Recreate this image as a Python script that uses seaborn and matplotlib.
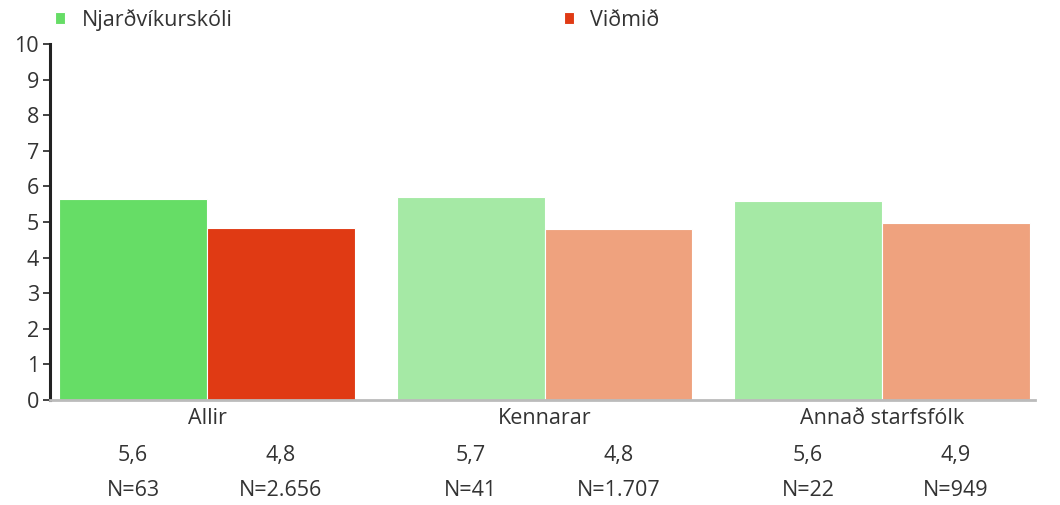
import matplotlib
matplotlib.use("Agg")
import matplotlib.pyplot as plt
import matplotlib.transforms as mtransforms
import seaborn as sns
import pandas as pd

categories = ["Allir", "Kennarar", "Annað starfsfólk"]
series_names = ["Njarðvíkurskóli", "Viðmið"]
school_values = [5.65, 5.70, 5.59]
norm_values = [4.83, 4.80, 4.97]
school_labels = ["5,6", "5,7", "5,6"]
norm_labels = ["4,8", "4,8", "4,9"]
school_n = ["N=63", "N=41", "N=22"]
norm_n = ["N=2.656", "N=1.707", "N=949"]

green_dark, red_dark = "#66DD66", "#E03A14"
green_light, red_light = "#A5E9A5", "#EFA27E"

sns.set_theme(style="white")
plt.rcParams["font.family"] = ["Open Sans", "DejaVu Sans"]
text_color = "#333333"
fs = 15.5

df = pd.DataFrame({
    "group": categories * 2,
    "series": [series_names[0]] * 3 + [series_names[1]] * 3,
    "value": school_values + norm_values,
})

fig = plt.figure(figsize=(10.6, 5.05), dpi=100)
ax = fig.add_axes([50 / 1060, 1 - 400 / 505, (1035 - 50) / 1060, (400 - 44) / 505])

width = 0.876
sns.barplot(data=df, x="group", y="value", hue="series", order=categories,
            hue_order=series_names, palette=[green_dark, red_dark],
            width=width, saturation=1, ax=ax, errorbar=None,
            edgecolor="white", linewidth=0.8)

# Lighter colours for the sub groups
for cont, light in zip(ax.containers, [green_light, red_light]):
    for i, bar in enumerate(cont.patches):
        if i > 0:
            bar.set_facecolor(light)

ax.set_ylim(0, 10)
ax.set_xlim(-0.465, 2.453)
ax.set_yticks(range(0, 11))
ax.set_xlabel("")
ax.set_ylabel("")
ax.set_xticks([])
ax.tick_params(axis="y", left=True, length=5, width=1.2, color="#222222",
               labelsize=fs, labelcolor=text_color, pad=3)
for s in ["top", "right"]:
    ax.spines[s].set_visible(False)
ax.spines["left"].set_color("#222222")
ax.spines["left"].set_linewidth(2.2)
ax.spines["bottom"].set_color("#BBBBBB")
ax.spines["bottom"].set_linewidth(2)

trans = mtransforms.blended_transform_factory(ax.transData, ax.transAxes)
off = width / 4
for i, cat in enumerate(categories):
    ax.text(i, -0.052, cat, transform=trans, ha="center", va="center",
            fontsize=fs, color=text_color)
    ax.text(i - off, -0.157, school_labels[i], transform=trans, ha="center",
            va="center", fontsize=fs, color=text_color)
    ax.text(i + off, -0.157, norm_labels[i], transform=trans, ha="center",
            va="center", fontsize=fs, color=text_color)
    ax.text(i - off, -0.255, school_n[i], transform=trans, ha="center",
            va="center", fontsize=fs, color=text_color)
    ax.text(i + off, -0.255, norm_n[i], transform=trans, ha="center",
            va="center", fontsize=fs, color=text_color)

handles, labels = ax.get_legend_handles_labels()
ax.get_legend().remove()
leg = fig.legend(handles, labels, loc="center left", bbox_to_anchor=(36 / 1060, 1 - 20 / 505),
                 ncol=2, frameon=False, fontsize=fs, handlelength=0.47, handleheight=0.47,
                 handletextpad=0.75, columnspacing=15.4, labelcolor=text_color)

fig.savefig("out.png", dpi=100, facecolor="white")
